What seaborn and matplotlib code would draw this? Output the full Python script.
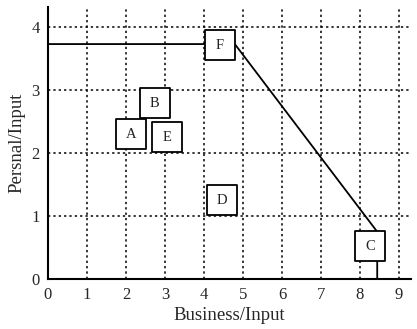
import matplotlib
matplotlib.use("Agg")
import matplotlib.pyplot as plt
import seaborn as sns
import pandas as pd

# units
labels = ["A", "B", "C", "D", "E", "F"]
business = [2.13, 2.74, 8.26, 4.46, 3.05, 4.41]
persnal = [2.30, 2.79, 0.52, 1.25, 2.25, 3.71]

# efficiency frontier
frontier_x = [0.0, 4.79, 8.44, 8.44]
frontier_y = [3.73, 3.73, 0.75, 0.0]

xticks = [0, 1, 2, 3, 4, 5, 6, 7, 8, 9]
yticks = [0, 1, 2, 3, 4]

df = pd.DataFrame({"label": labels, "business": business, "persnal": persnal})

sns.set_style("white")
plt.rcParams["font.family"] = ["Liberation Serif", "DejaVu Serif"]

fig = plt.figure(figsize=(4.17, 3.29), dpi=100)
ax = fig.add_axes([0.115, 0.152, 0.871, 0.827])

sns.lineplot(x=frontier_x, y=frontier_y, color="black", linewidth=1.3,
             sort=False, estimator=None, ax=ax, zorder=3)
sns.scatterplot(data=df, x="business", y="persnal", marker="s", s=440,
                color="white", edgecolor="black", linewidth=1.3, ax=ax, zorder=4)
for _, r in df.iterrows():
    ax.text(r["business"], r["persnal"], r["label"], ha="center", va="center",
            fontsize=10.5, color="#222222", zorder=5)

ax.set_xlim(0, 9.31)
ax.set_ylim(0, 4.32)
ax.set_xticks(xticks)
ax.set_yticks(yticks)
ax.tick_params(length=0, labelsize=12, pad=6)
ax.grid(True, color="black", linestyle=(0, (1.5, 2)), linewidth=1.1)
for s in ["top", "right"]:
    ax.spines[s].set_visible(False)
for s in ["left", "bottom"]:
    ax.spines[s].set_color("black")
    ax.spines[s].set_linewidth(1.5)
ax.set_xlabel("Business/Input", fontsize=13.5, labelpad=3)
ax.set_ylabel("Persnal/Input", fontsize=13.5, labelpad=4)

plt.savefig("out.png", dpi=100)
